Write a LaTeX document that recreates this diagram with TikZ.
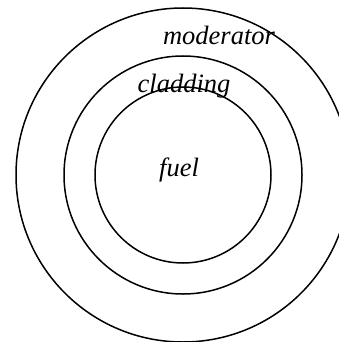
\documentclass[tikz,border=0pt]{standalone}
\usepackage{fontspec}
\setmainfont{Liberation Serif}
\usepackage{tikz}
\usetikzlibrary{positioning}

\begin{document}
\begin{tikzpicture}[
  x=1pt,y=-1pt,
  ring/.style={draw,line width=1.5pt},
  lbl/.style={font=\fontsize{26.5}{30}\selectfont\itshape,inner sep=0pt}
]
\useasboundingbox (0,0) rectangle (339,342);
\coordinate (c) at (183,175);
\draw[ring] (c) circle[radius=167];
\draw[ring] (c) circle[radius=119];
\draw[ring] (c) circle[radius=88];

\node[lbl] (fuel) at (179,170) {fuel};
\node[lbl] (cladding) at (184,86) {cladding};
\node[lbl] (moderator) at (219,35) {moderator};
\end{tikzpicture}
\end{document}
